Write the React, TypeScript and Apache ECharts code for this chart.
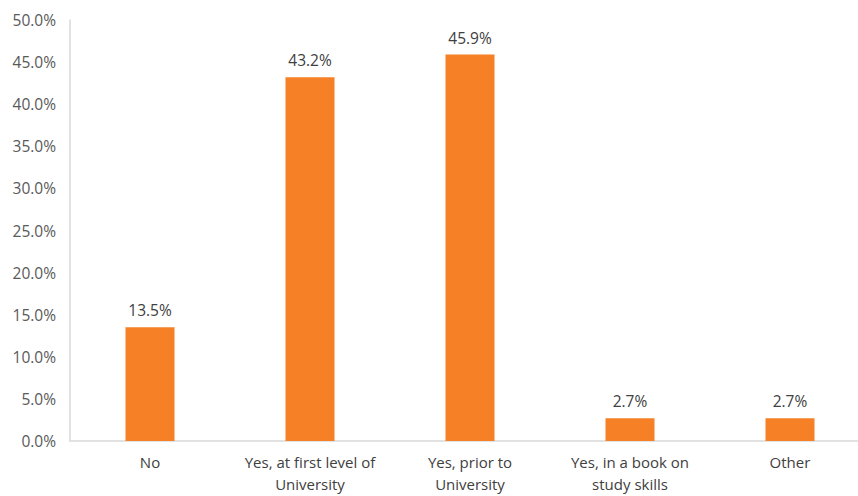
import React, { useEffect, useRef } from "react";
import * as echarts from "echarts";

const categories = [
  "No",
  "Yes, at first level of\nUniversity",
  "Yes, prior to\nUniversity",
  "Yes, in a book on\nstudy skills",
  "Other",
];
const values = [13.5, 43.2, 45.9, 2.7, 2.7];
const yMin = 0;
const yMax = 50;
const yInterval = 5;

export default function App() {
  const ref = useRef<HTMLDivElement>(null);
  useEffect(() => {
    if (!ref.current) return;
    const chart = echarts.init(ref.current, undefined, { renderer: "svg" });
    const font = "'Open Sans', 'Noto Sans', sans-serif";
    chart.setOption({
      animation: false,
      backgroundColor: "#ffffff",
      grid: {
        left: 70,
        top: 20,
        width: 800,
        height: 421,
        containLabel: false,
        outerBoundsMode: "none",
      },
      xAxis: {
        type: "category",
        data: categories,
        axisLine: { show: true, lineStyle: { color: "#d9d9d9", width: 1.5 } },
        axisTick: { show: false },
        axisLabel: {
          color: "#404040",
          fontFamily: font,
          fontSize: 15,
          lineHeight: 22,
          margin: 10,
          interval: 0,
        },
      },
      yAxis: {
        type: "value",
        min: yMin,
        max: yMax,
        interval: yInterval,
        axisLine: { show: true, lineStyle: { color: "#d9d9d9", width: 1.5 } },
        axisTick: { show: false },
        splitLine: { show: false },
        axisLabel: {
          color: "#595959",
          fontFamily: font,
          fontSize: 15.5,
          margin: 14,
          formatter: (v: number) => v.toFixed(1) + "%",
        },
      },
      series: [
        {
          type: "bar",
          data: values,
          barWidth: 49,
          itemStyle: { color: "#F58025" },
          label: {
            show: true,
            position: "top",
            distance: 9,
            color: "#404040",
            fontFamily: font,
            fontSize: 15.5,
            formatter: (p: any) => Number(p.value).toFixed(1) + "%",
          },
        },
      ],
    });
    return () => chart.dispose();
  }, []);
  return (
    <div
      ref={ref}
      style={{ position: "fixed", left: 0, top: 0, width: 858, height: 496, background: "#fff" }}
    />
  );
}
